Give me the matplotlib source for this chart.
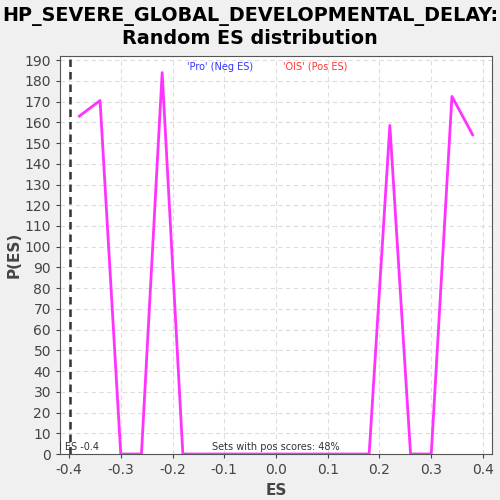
import matplotlib
matplotlib.use('Agg')
import matplotlib.pyplot as plt
import matplotlib.ticker as mticker

# random ES distribution (x = ES bin centre, y = density)
es_bins = [-0.38, -0.34, -0.30, -0.26, -0.22, -0.18, -0.14, -0.10, -0.06, -0.02,
           0.02, 0.06, 0.10, 0.14, 0.18, 0.22, 0.26, 0.30, 0.34, 0.38]
p_es = [163, 170.5, 0, 0, 184, 0, 0, 0, 0, 0,
        0, 0, 0, 0, 0, 158.5, 0, 0, 172.5, 154]
actual_es = -0.4
pos_pct = 48

fig = plt.figure(figsize=(5, 5), dpi=100, facecolor='#f0f0f0')
ax = fig.add_axes([0.12, 0.092, 0.864, 0.796])
ax.set_facecolor('white')

ax.plot(es_bins, p_es, color='#ff33ff', linewidth=2, zorder=3)
ax.axvline(actual_es + 0.002, color='#333333', linestyle=(0, (3, 2)), linewidth=1.8, zorder=4)

ax.set_xlim(-0.4174, 0.4174)
ax.set_ylim(0, 192)
ax.xaxis.set_major_locator(mticker.MultipleLocator(0.1))
ax.yaxis.set_major_locator(mticker.MultipleLocator(10))
ax.xaxis.set_major_formatter(mticker.FuncFormatter(lambda v, p: f"{v:.1f}"))
ax.grid(True, color='#dddddd', linestyle=(0, (4, 3)), linewidth=0.8, zorder=0)
ax.tick_params(labelsize=10, colors='#444444', length=3)
for s in ax.spines.values():
    s.set_color('#555555')

ax.set_xlabel('ES', fontsize=11, fontweight='bold', color='#444444', labelpad=4)
ax.set_ylabel('P(ES)', fontsize=11, fontweight='bold', color='#444444', labelpad=2)
fig.suptitle('HP_SEVERE_GLOBAL_DEVELOPMENTAL_DELAY:\nRandom ES distribution',
             fontsize=13.8, fontweight='bold', y=0.985, linespacing=1.2)

ax.text(0.37, 0.985, "'Pro' (Neg ES)", transform=ax.transAxes, fontsize=7,
        color='#3333ff', ha='center', va='top')
ax.text(0.59, 0.985, "'OIS' (Pos ES)", transform=ax.transAxes, fontsize=7,
        color='#ff3333', ha='center', va='top')
# label is partly hidden behind the left axis edge, like the original
ax.text(actual_es + 0.058, 1, f"Actual ES {actual_es}", fontsize=7, color='#333333',
        ha='right', va='bottom', clip_on=True)
ax.text(0.0, 1, f"Sets with pos scores: {pos_pct}%", fontsize=7, color='#333333',
        ha='center', va='bottom')

fig.savefig('out.png', dpi=100, facecolor=fig.get_facecolor())
